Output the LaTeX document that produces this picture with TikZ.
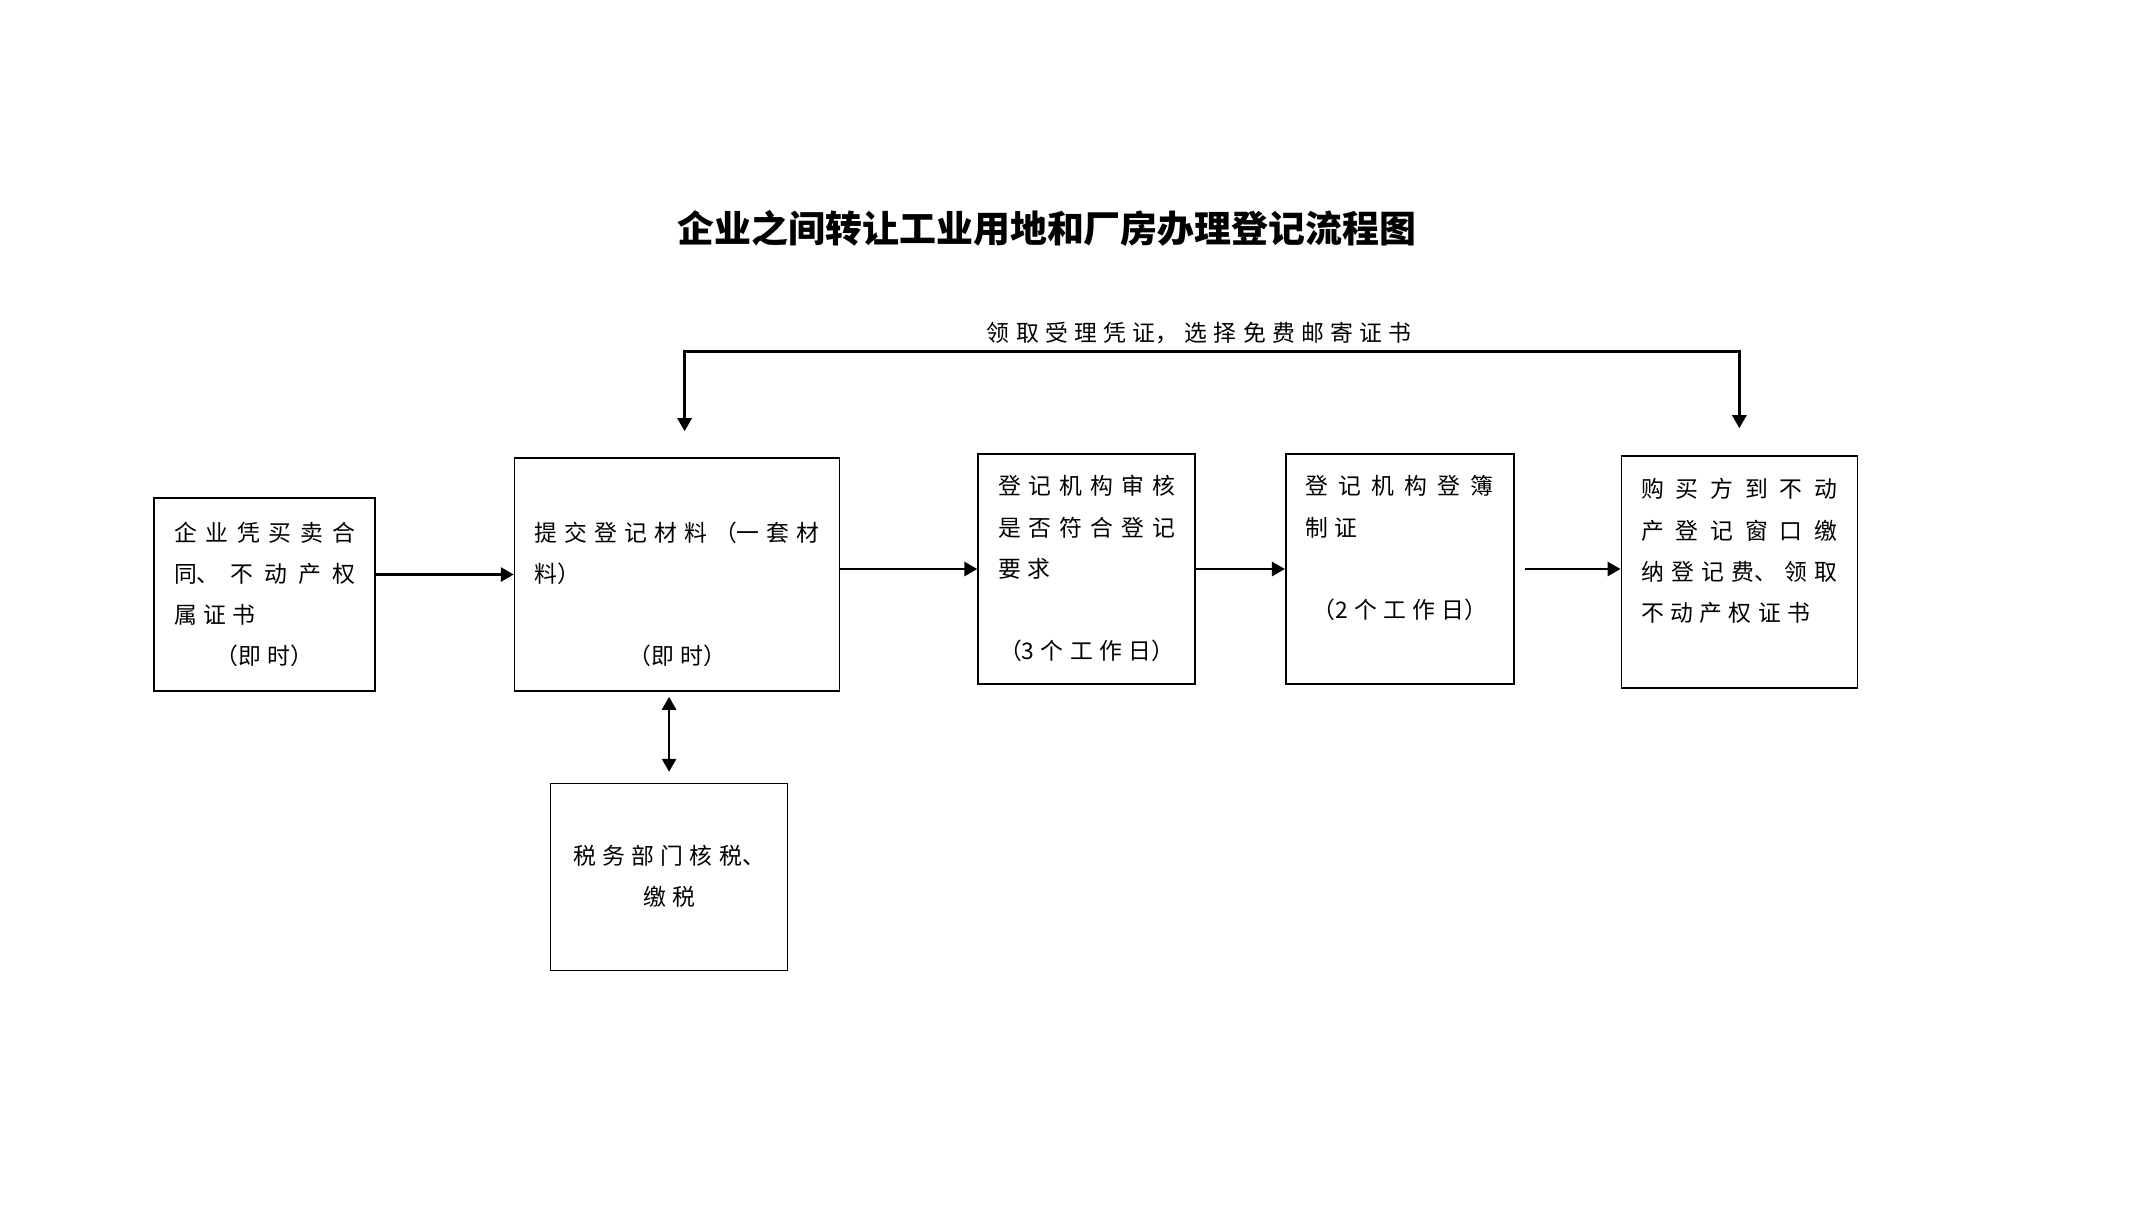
\documentclass[tikz,border=0pt]{standalone}
\usepackage{fontspec}
\usepackage{tikz}
\usetikzlibrary{positioning,arrows.meta}
\newfontfamily\cjk{Noto Sans CJK SC}
\XeTeXlinebreaklocale "zh"
\newcommand\blockfont{\cjk\fontsize{13pt}{23.4pt}\selectfont\XeTeXlinebreakskip=3.6pt plus 6pt minus 0.5pt\relax}

\begin{document}
\begin{tikzpicture}[>={Triangle[length=0.26cm,width=0.28cm]}]
  \tikzset{block/.style={rectangle, draw, line width=0.9pt, inner xsep=0.4cm, inner ysep=0.1cm, align=justify, font=\blockfont, execute at begin node=\strut}}
  \useasboundingbox (0,0) rectangle (42.64,-24.56);
  \node[font=\cjk\bfseries\fontsize{21pt}{25pt}\selectfont] (title) at (20.94,-4.56) {企业之间转让工业用地和厂房办理登记流程图};
  \node[block, text width=3.62cm, minimum height=3.86cm] (apply) at (5.29,-11.89) {企业凭买卖合\linebreak 同、不动产权\linebreak 属证书\par{\centering（即时）\strut\par}};
  \node[block, text width=5.7cm, minimum height=4.66cm, right=2.76cm of apply.south east, anchor=south west] (submit) {\strut\\提交登记材料（一套材\linebreak 料）\\\strut\par{\centering（即时）\strut\par}};
  \node[block, text width=3.54cm, minimum height=4.6cm, right=2.74cm of submit, yshift=0.11cm] (review) {登记机构审核\linebreak 是否符合登记\linebreak 要求\\\strut\par{\centering（3个工作日）\strut\par}};
  \node[block, text width=3.76cm, minimum height=4.6cm, right=1.78cm of review] (record) {登记机构登簿\linebreak 制证\\\strut\par{\centering（2个工作日）\par}\strut};
  \node[block, text width=3.92cm, minimum height=4.64cm, right=2.12cm of record, yshift=-0.06cm] (collect) {购买方到不动\linebreak 产登记窗口缴\linebreak 纳登记费、领取\linebreak 不动产权证书\\\strut};
  \node[block, text width=3.94cm, minimum height=3.74cm, below=1.82cm of submit, xshift=-0.16cm] (tax) {{\centering 税务部门核税、\\缴税\strut\par}};
  \draw[->,line width=1.6pt] (apply.east |- submit) -- (submit);
  \draw[->,line width=1.6pt] (submit.east |- review) -- (review);
  \draw[->,line width=1.6pt] (review) -- (record);
  \draw[->,line width=1.6pt,shorten <=0.2cm] (record.east) -- (record.east -| collect.west);
  \draw[<->,line width=1.6pt,shorten <=0.1cm,shorten >=0.22cm] (tax.north |- submit.south) -- (tax.north);
  \draw[<->,line width=1.6pt,shorten <=0.52cm,shorten >=0.54cm] ([xshift=0.15cm]submit.north) -- ++(0,2.12) -| (collect.north) node[pos=0.244, above, font=\blockfont, text width=9.5cm, align=justify] (note) {{\centering 领取受理凭证，选择免费邮寄证书\par}};
\end{tikzpicture}
\end{document}
